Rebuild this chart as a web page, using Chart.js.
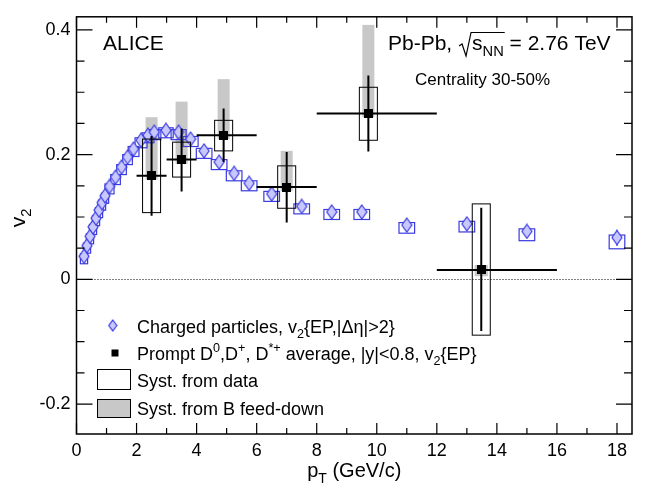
<!DOCTYPE html>
<html>
<head>
<meta charset="utf-8">
<script src="https://cdn.jsdelivr.net/npm/chart.js@4.4.1/dist/chart.umd.min.js"></script>
<style>
  html, body { margin: 0; padding: 0; background: #fff; }
  #wrap { width: 646px; height: 497px; }
</style>
</head>
<body>
<div id="wrap"><canvas id="v2chart" width="646" height="497"></canvas></div>
<script>
// Charged particles, v2{EP,|Δη|>2}
const chPt       = [0.25, 0.35, 0.45, 0.55, 0.65, 0.75, 0.85, 0.95, 1.1, 1.3, 1.5, 1.7, 1.9, 2.15, 2.38, 2.59, 2.98, 3.4, 3.8, 4.25, 4.75, 5.25, 5.75, 6.5, 7.5, 8.5, 9.5, 11, 13, 15, 18];
const chV2       = [0.037, 0.054, 0.069, 0.084, 0.098, 0.111, 0.123, 0.134, 0.149, 0.164, 0.180, 0.196, 0.209, 0.223, 0.231, 0.236, 0.239, 0.236, 0.225, 0.206, 0.188, 0.170, 0.154, 0.137, 0.117, 0.108, 0.108, 0.087, 0.089, 0.077, 0.067];
const chStat     = [0, 0, 0, 0, 0, 0, 0, 0, 0, 0, 0, 0, 0, 0, 0, 0, 0, 0, 0, 0, 0, 0, 0, 0, 0.002, 0.003, 0.003, 0.004, 0.005, 0.008, 0.013];
const chSystUp   = [0.004, 0.004, 0.004, 0.004, 0.004, 0.004, 0.004, 0.004, 0.004, 0.004, 0.004, 0.004, 0.004, 0.004, 0.004, 0.004, 0.004, 0.004, 0.004, 0.004, 0.004, 0.004, 0.004, 0.004, 0.004, 0.004, 0.004, 0.004, 0.004, 0.004, 0.004];
const chSystDown = [0.012, 0.012, 0.012, 0.012, 0.012, 0.012, 0.012, 0.012, 0.012, 0.012, 0.012, 0.012, 0.012, 0.012, 0.012, 0.012, 0.012, 0.012, 0.012, 0.012, 0.012, 0.012, 0.012, 0.012, 0.012, 0.012, 0.012, 0.013, 0.013, 0.015, 0.018];
const chBoxHalf  = [0.12, 0.12, 0.12, 0.12, 0.12, 0.12, 0.12, 0.12, 0.15, 0.16, 0.16, 0.16, 0.18, 0.2, 0.2, 0.22, 0.24, 0.25, 0.25, 0.26, 0.26, 0.26, 0.26, 0.26, 0.26, 0.26, 0.26, 0.26, 0.26, 0.26, 0.26];

// Prompt D0, D+, D*+ average
const dPt       = [2.5, 3.5, 4.9, 7.0, 9.72, 13.48];
const dV2       = [0.166, 0.192, 0.231, 0.148, 0.266, 0.015];
const dBinLo    = [2, 3, 4, 6, 8, 12];
const dBinHi    = [3, 4, 6, 8, 12, 16];
const dStatHi   = [0.230, 0.242, 0.274, 0.204, 0.327, 0.115];
const dStatLo   = [0.102, 0.141, 0.188, 0.091, 0.205, -0.083];
const dSystHi   = [0.225, 0.220, 0.255, 0.182, 0.308, 0.121];
const dSystLo   = [0.107, 0.164, 0.206, 0.114, 0.223, -0.0895];
const dSystHalf = [0.3, 0.3, 0.3, 0.3, 0.3, 0.3];
const dFeedHi   = [0.260, 0.285, 0.321, 0.206, 0.408, 0.023];
const dFeedLo   = [0.160, 0.185, 0.225, 0.142, 0.260, 0.005];
const dFeedHalf = [0.2, 0.2, 0.2, 0.2, 0.2, 0.22];

// axes
const xMajorTicks = [0, 2, 4, 6, 8, 10, 12, 14, 16, 18];
const xMinorTicks = [1, 3, 5, 7, 9, 11, 13, 15, 17];
const xTickLabels = ['0', '2', '4', '6', '8', '10', '12', '14', '16', '18'];
const yMajorTicks = [-0.2, 0, 0.2, 0.4];
const yMinorTicks = [-0.15, -0.1, -0.05, 0.05, 0.1, 0.15, 0.25, 0.3, 0.35];
const yTickLabels = ['-0.2', '0', '0.2', '0.4'];

const FONT = '"Liberation Sans", Arial, Helvetica, sans-serif';
const font = sz => sz + 'px ' + FONT;
const BLUE = '#3a3ae0';
const BLUE_FILL = '#c8c8ff';
const GRAY = '#c8c8c8';

// marker images
function diamondMarker(w, h) {
  const c = document.createElement('canvas');
  c.width = w + 2; c.height = h + 2;
  const g = c.getContext('2d');
  const cx = c.width / 2, cy = c.height / 2;
  g.beginPath();
  g.moveTo(cx, cy - h / 2);
  g.lineTo(cx + w / 2, cy);
  g.lineTo(cx, cy + h / 2);
  g.lineTo(cx - w / 2, cy);
  g.closePath();
  g.fillStyle = BLUE_FILL;
  g.fill();
  g.lineWidth = 1.2;
  g.strokeStyle = BLUE;
  g.stroke();
  return c;
}
function squareMarker(s) {
  const c = document.createElement('canvas');
  c.width = s; c.height = s;
  const g = c.getContext('2d');
  g.fillStyle = '#000';
  g.fillRect(0, 0, s, s);
  return c;
}

// rich text: parts = [[text, mode]], mode 0 normal, 1 subscript, 2 superscript
function drawRich(ctx, parts, x, y, size, align) {
  const widths = parts.map(([t, m]) => {
    ctx.font = font(m ? size * 0.7 : size);
    return ctx.measureText(t).width;
  });
  const total = widths.reduce((a, b) => a + b, 0);
  let cx = align === 'center' ? x - total / 2 : x;
  ctx.textAlign = 'left';
  ctx.textBaseline = 'alphabetic';
  parts.forEach(([t, m], i) => {
    ctx.font = font(m ? size * 0.7 : size);
    const dy = m === 1 ? size * 0.3 : m === 2 ? -size * 0.42 : 0;
    ctx.fillText(t, cx, y + dy);
    cx += widths[i];
  });
  return total;
}

const hepPlugin = {
  id: 'hepDecor',
  beforeDatasetsDraw(chart) {
    const { ctx, chartArea, scales: { x, y } } = chart;
    ctx.save();
    ctx.strokeStyle = '#000';
    ctx.lineWidth = 1;
    ctx.setLineDash([1, 2]);
    ctx.beginPath();
    ctx.moveTo(chartArea.left, Math.round(y.getPixelForValue(0)) + 0.5);
    ctx.lineTo(chartArea.right, Math.round(y.getPixelForValue(0)) + 0.5);
    ctx.stroke();
    ctx.restore();
  },
  beforeDatasetDraw(chart, args) {
    const { ctx, scales: { x, y } } = chart;
    ctx.save();
    if (args.index === 1) {
      // B feed-down boxes (grey)
      ctx.fillStyle = GRAY;
      dPt.forEach((pt, i) => {
        const x0 = x.getPixelForValue(pt - dFeedHalf[i]);
        const x1 = x.getPixelForValue(pt + dFeedHalf[i]);
        const y0 = y.getPixelForValue(dFeedHi[i]);
        const y1 = y.getPixelForValue(dFeedLo[i]);
        ctx.fillRect(x0, y0, x1 - x0, y1 - y0);
      });
      // charged-particle syst boxes and stat bars
      ctx.strokeStyle = BLUE;
      ctx.lineWidth = 1.2;
      chPt.forEach((pt, i) => {
        const x0 = x.getPixelForValue(pt - chBoxHalf[i]);
        const x1 = x.getPixelForValue(pt + chBoxHalf[i]);
        const y0 = y.getPixelForValue(chV2[i] + chSystUp[i]);
        const y1 = y.getPixelForValue(chV2[i] - chSystDown[i]);
        ctx.strokeRect(x0, y0, x1 - x0, y1 - y0);
        if (chStat[i] > 0) {
          const px = x.getPixelForValue(pt);
          ctx.beginPath();
          ctx.moveTo(px, y.getPixelForValue(chV2[i] + chStat[i]));
          ctx.lineTo(px, y.getPixelForValue(chV2[i] - chStat[i]));
          ctx.stroke();
        }
      });
    }
    if (args.index === 0) {
      ctx.strokeStyle = '#000';
      ctx.lineWidth = 1;
      dPt.forEach((pt, i) => {
        const x0 = x.getPixelForValue(pt - dSystHalf[i]);
        const x1 = x.getPixelForValue(pt + dSystHalf[i]);
        const y0 = y.getPixelForValue(dSystHi[i]);
        const y1 = y.getPixelForValue(dSystLo[i]);
        ctx.strokeRect(x0, y0, x1 - x0, y1 - y0);
      });
      ctx.lineWidth = 2;
      dPt.forEach((pt, i) => {
        const px = x.getPixelForValue(pt);
        const py = y.getPixelForValue(dV2[i]);
        ctx.beginPath();
        ctx.moveTo(x.getPixelForValue(dBinLo[i]), py);
        ctx.lineTo(x.getPixelForValue(dBinHi[i]), py);
        ctx.moveTo(px, y.getPixelForValue(dStatHi[i]));
        ctx.lineTo(px, y.getPixelForValue(dStatLo[i]));
        ctx.stroke();
      });
    }
    ctx.restore();
  },
  afterDraw(chart) {
    const { ctx, chartArea: a, scales: { x, y } } = chart;
    ctx.save();
    // frame
    ctx.strokeStyle = '#000';
    ctx.lineWidth = 1.5;
    ctx.strokeRect(a.left, a.top, a.right - a.left, a.bottom - a.top);
    // inward ticks on all four sides
    ctx.lineWidth = 1.2;
    ctx.beginPath();
    const xt = (vals, len) => vals.forEach(v => {
      const px = x.getPixelForValue(v);
      ctx.moveTo(px, a.bottom); ctx.lineTo(px, a.bottom - len);
      ctx.moveTo(px, a.top); ctx.lineTo(px, a.top + len);
    });
    const yt = (vals, len) => vals.forEach(v => {
      const py = y.getPixelForValue(v);
      ctx.moveTo(a.left, py); ctx.lineTo(a.left + len, py);
      ctx.moveTo(a.right, py); ctx.lineTo(a.right - len, py);
    });
    xt(xMajorTicks, 11); xt(xMinorTicks, 6);
    yt(yMajorTicks, 16); yt(yMinorTicks, 8);
    ctx.stroke();

    ctx.fillStyle = '#000';
    // axis titles
    drawRich(ctx, [['p', 0], ['T', 1], [' (GeV/c)', 0]], (a.left + a.right) / 2, 477, 20, 'center');
    ctx.save();
    ctx.translate(25, 218);
    ctx.rotate(-Math.PI / 2);
    drawRich(ctx, [['v', 0], ['2', 1]], 0, 0, 21, 'center');
    ctx.restore();

    // labels
    ctx.font = font(21);
    ctx.textAlign = 'left';
    ctx.fillText('ALICE', 103, 50);

    let cx = 388;
    cx += drawRich(ctx, [['Pb-Pb, ', 0]], cx, 50, 21, 'left');
    // square root sign
    ctx.lineWidth = 1.2;
    const rootStart = cx + 1;
    cx += 14;
    const sw = drawRich(ctx, [['s', 0], ['NN', 1]], cx, 50, 21, 'left');
    ctx.beginPath();
    ctx.moveTo(rootStart, 46);
    ctx.lineTo(rootStart + 3, 44);
    ctx.lineTo(rootStart + 7, 56);
    ctx.lineTo(rootStart + 12, 32.5);
    ctx.lineTo(cx + sw + 1, 32.5);
    ctx.stroke();
    cx += sw;
    drawRich(ctx, [[' = 2.76 TeV', 0]], cx, 50, 21, 'left');

    ctx.font = font(17);
    ctx.fillText('Centrality 30-50%', 415, 85);

    // legend
    const dm = diamondMarker(8, 11);
    ctx.drawImage(dm, 112.7 - dm.width / 2, 325.5 - dm.height / 2);
    ctx.fillRect(111.5, 349.5, 7, 7);
    ctx.lineWidth = 1;
    ctx.strokeRect(97.5, 369.5, 33, 20);
    ctx.fillStyle = GRAY;
    ctx.fillRect(97.5, 399.5, 33, 18);
    ctx.strokeRect(97.5, 399.5, 33, 18);
    ctx.fillStyle = '#000';
    drawRich(ctx, [['Charged particles, v', 0], ['2', 1], ['{EP,|\u0394\u03b7|>2}', 0]], 137, 332.5, 18, 'left');
    drawRich(ctx, [['Prompt D', 0], ['0', 2], [',D', 0], ['+', 2], [', D', 0], ['*+', 2],
                   [' average, |y|<0.8, v', 0], ['2', 1], ['{EP}', 0]], 137, 360, 18, 'left');
    drawRich(ctx, [['Syst. from data', 0]], 137, 386.5, 18, 'left');
    drawRich(ctx, [['Syst. from B feed-down', 0]], 137, 414.5, 18, 'left');
    ctx.restore();
  }
};

const ctx = document.getElementById('v2chart');
new Chart(ctx, {
  type: 'scatter',
  data: {
    datasets: [
      {
        label: 'Prompt D average',
        data: dPt.map((pt, i) => ({ x: pt, y: dV2[i] })),
        pointStyle: squareMarker(9),
        pointRadius: 5
      },
      {
        label: 'Charged particles',
        data: chPt.map((pt, i) => ({ x: pt, y: chV2[i] })),
        pointStyle: diamondMarker(10, 14),
        pointRadius: 7
      }
    ]
  },
  options: {
    responsive: false,
    animation: false,
    devicePixelRatio: 1,
    layout: { padding: { top: 8.3, right: 14, bottom: 0, left: 0 } },
    plugins: { legend: { display: false }, tooltip: { enabled: false } },
    scales: {
      x: {
        type: 'linear',
        min: 0,
        max: 18.5,
        afterBuildTicks: s => { s.ticks = xMajorTicks.map(v => ({ value: v })); },
        afterFit: s => { s.height = 63; },
        grid: { display: false, drawTicks: false },
        border: { display: false },
        ticks: {
          padding: 6,
          color: '#000',
          font: { family: FONT, size: 18 },
          maxRotation: 0,
          autoSkip: false,
          callback: v => xTickLabels[xMajorTicks.indexOf(v)]
        }
      },
      y: {
        type: 'linear',
        min: -0.248,
        max: 0.421,
        afterBuildTicks: s => { s.ticks = yMajorTicks.map(v => ({ value: v })); },
        afterFit: s => { s.width = 76.5; },
        grid: { display: false, drawTicks: false },
        border: { display: false },
        ticks: {
          padding: 6,
          color: '#000',
          font: { family: FONT, size: 18 },
          autoSkip: false,
          callback: v => yTickLabels[yMajorTicks.indexOf(v)]
        }
      }
    }
  },
  plugins: [hepPlugin]
});
</script>
</body>
</html>
